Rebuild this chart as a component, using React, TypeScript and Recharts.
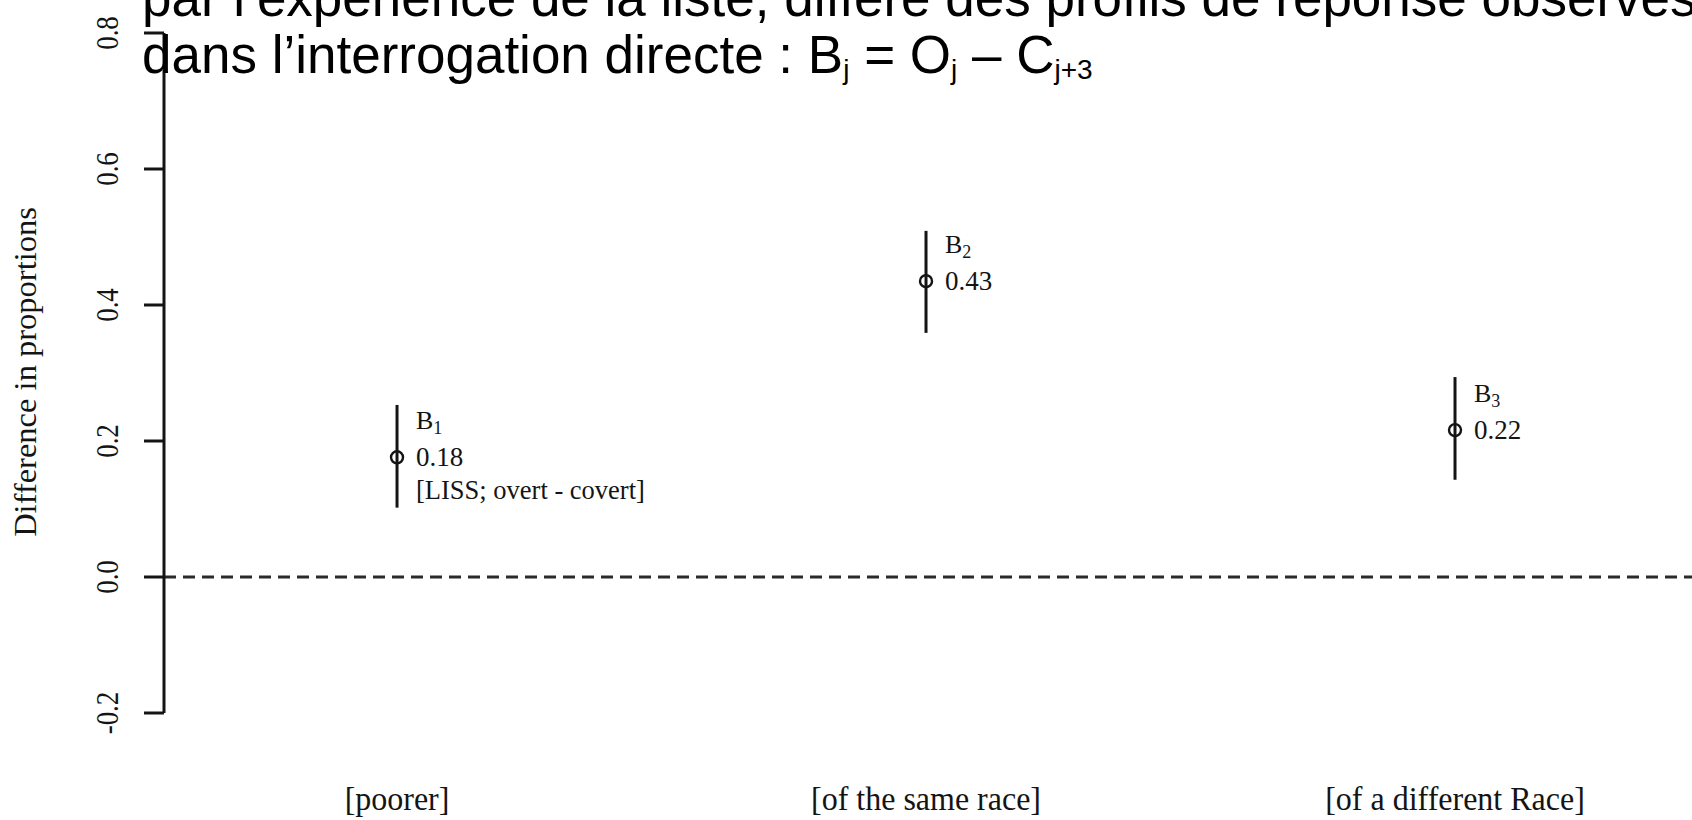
import {
	ComposedChart,
	ErrorBar,
	ReferenceLine,
	Scatter,
	XAxis,
	YAxis,
} from "recharts";

const categories = ["[poorer]", "[of the same race]", "[of a different Race]"];
const positions = [1, 2, 3];
const estimates = [0.176, 0.435, 0.216];
const lower = [0.102, 0.359, 0.143];
const upper = [0.253, 0.509, 0.294];
const estimateLabels = ["0.18", "0.43", "0.22"];
const markerIndex = ["1", "2", "3"];
const notes = ["[LISS; overt - covert]", "", ""];
const yTicks = [-0.2, 0, 0.2, 0.4, 0.6, 0.8];

const SERIF = '"Liberation Serif", "Times New Roman", Times, serif';
const SANS = '"Liberation Sans", Arial, Helvetica, sans-serif';
const INK = "#141414";

const points = positions.map((x, i) => ({
	x,
	y: estimates[i],
	err: [estimates[i] - lower[i], upper[i] - estimates[i]],
	label: estimateLabels[i],
	idx: markerIndex[i],
	note: notes[i],
}));

function PointMark(props: any) {
	const { cx, cy, payload } = props;
	const tx = cx + 19;
	return (
		<g>
			<circle cx={cx} cy={cy} r={6} fill="none" stroke={INK} strokeWidth={2.4} />
			<text x={tx} y={cy - 28} fontFamily={SERIF} fontSize={26} fill={INK}>
				B
				<tspan fontSize={18} dy={5}>
					{payload.idx}
				</tspan>
			</text>
			<text x={tx} y={cy + 9} fontFamily={SERIF} fontSize={27} fill={INK}>
				{payload.label}
			</text>
			{payload.note && (
				<text x={tx} y={cy + 42} fontFamily={SERIF} fontSize={26.5} fill={INK}>
					{payload.note}
				</text>
			)}
		</g>
	);
}

function CategoryTick(props: any) {
	const { x, y, payload } = props;
	const i = positions.indexOf(payload.value);
	return (
		<text
			transform={`translate(${x}, ${y + 97}) scale(1, 1.08)`}
			textAnchor="middle"
			fontFamily={SERIF}
			fontSize={32}
			fill={INK}
		>
			{categories[i]}
		</text>
	);
}

function ValueTick(props: any) {
	const { x, y, payload } = props;
	return (
		<text
			transform={`translate(${x - 24}, ${y}) rotate(-90) scale(1, 1.15)`}
			textAnchor="middle"
			fontFamily={SERIF}
			fontSize={27}
			fill={INK}
		>
			{Number(payload.value).toFixed(1)}
		</text>
	);
}

function YTitle(props: any) {
	const vb = props.viewBox;
	const cy = vb.y + vb.height / 2 - 1;
	return (
		<text
			transform={`translate(36, ${cy}) rotate(-90)`}
			textAnchor="middle"
			fontFamily={SERIF}
			fontSize={32.5}
			fill={INK}
		>
			Difference in proportions
		</text>
	);
}

export default function App() {
	return (
		<div
			style={{
				position: "absolute",
				left: 0,
				top: 0,
				width: 1692,
				height: 820,
				background: "#fff",
				overflow: "hidden",
			}}
		>
			<ComposedChart
				width={1692}
				height={820}
				data={points}
				margin={{ top: 33, right: 0, bottom: 0, left: 0 }}
			>
				<XAxis
					type="number"
					dataKey="x"
					domain={[0.5595, 3.448]}
					ticks={positions}
					allowDataOverflow
					axisLine={false}
					tickLine={false}
					tickSize={0}
					tickMargin={0}
					height={107}
					tick={<CategoryTick />}
				/>
				<YAxis
					type="number"
					domain={[-0.2, 0.8]}
					ticks={yTicks}
					allowDataOverflow
					width={164}
					axisLine={{ stroke: INK, strokeWidth: 3 }}
					tickLine={{ stroke: INK, strokeWidth: 3 }}
					tickSize={20}
					tickMargin={2}
					tick={<ValueTick />}
					label={<YTitle />}
				/>
				<ReferenceLine y={0} stroke="#2a2a2a" strokeWidth={2.8} strokeDasharray="12 7" />
				<Scatter dataKey="y" shape={<PointMark />} isAnimationActive={false}>
					<ErrorBar
						dataKey="err"
						direction="y"
						width={0}
						stroke={INK}
						strokeWidth={3}
						isAnimationActive={false}
					/>
				</Scatter>
			</ComposedChart>
			<svg
				width={1692}
				height={100}
				style={{ position: "absolute", left: 0, top: 0, pointerEvents: "none" }}
			>
				<text x={142} y={16} fontFamily={SANS} fontSize={53} fill="#000">
					par l’expérience de la liste, diffère des profils de réponse observés
				</text>
				<text x={142} y={73} fontFamily={SANS} fontSize={53} fill="#000">
					dans l’interrogation directe : B
					<tspan fontSize={28} dy={6}>j</tspan>
					<tspan dy={-6}> = O</tspan>
					<tspan fontSize={28} dy={6}>j</tspan>
					<tspan dy={-6}> – C</tspan>
					<tspan fontSize={28} dy={6}>j+3</tspan>
				</text>
			</svg>
		</div>
	);
}
